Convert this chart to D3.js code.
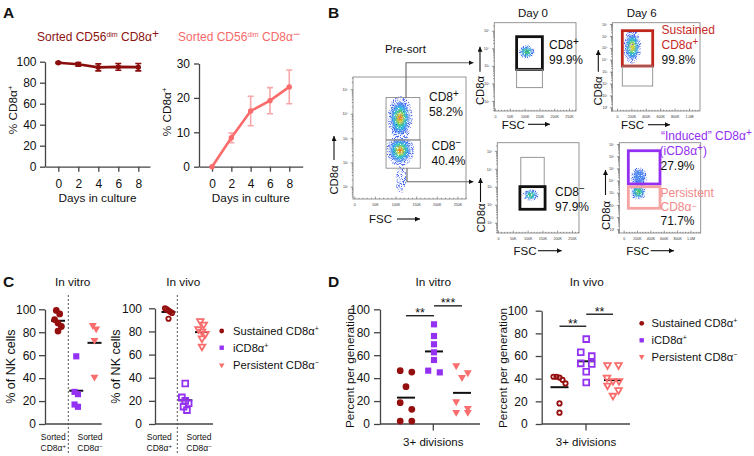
<!DOCTYPE html>
<html>
<head>
<meta charset="utf-8">
<script src="https://cdn.jsdelivr.net/npm/d3@7"></script>
<style>
  body { margin: 0; background: #fff; }
  svg text { font-family: "Liberation Sans", Arial, Helvetica, sans-serif; }
</style>
</head>
<body>
<svg id="fig" width="754" height="456">
  <defs>
    <marker id="ah" viewBox="0 0 10 10" refX="10" refY="5" markerWidth="5" markerHeight="5"
            markerUnits="userSpaceOnUse" orient="auto"><path d="M0,0L10,5L0,10z" fill="#111"/></marker>
    <filter id="speck" x="-30%" y="-30%" width="160%" height="160%">
      <feTurbulence type="fractalNoise" baseFrequency="1.1" numOctaves="1" seed="4" result="n"/>
      <feColorMatrix in="n" type="matrix" values="0 0 0 0 0  0 0 0 0 0  0 0 0 0 0  0 0 0 6 -2.9" result="m"/>
      <feComposite in="SourceGraphic" in2="m" operator="in"/>
    </filter>
    <filter id="grain" x="-30%" y="-30%" width="160%" height="160%">
      <feGaussianBlur in="SourceGraphic" stdDeviation="0.8" result="b"/>
      <feTurbulence type="fractalNoise" baseFrequency="1.3" numOctaves="1" seed="9" result="n"/>
      <feColorMatrix in="n" type="matrix" values="0 0 0 0 0  0 0 0 0 0  0 0 0 0 0  0 0 0 5 -1.4" result="m"/>
      <feComposite in="b" in2="m" operator="in"/>
    </filter>
  </defs>
</svg>
<script>
// ---------------- data ----------------

// A: % CD8a+ cells over days in culture (mean, SEM)
var days = [0, 2, 4, 6, 8];
var posMean = [99, 97.5, 94.6, 95.1, 94.8];
var posErr = [0.6, 1.7, 3.3, 3.2, 3.5];
var negMean = [0, 8.4, 16.2, 19.2, 23.2];
var negErr = [0, 1.4, 4.3, 3.8, 4.9];
var posTicks = [0, 20, 40, 60, 80, 100];
var negTicks = [0, 10, 20, 30];

// B: gates as [FSC min, FSC max, log10 CD8a min, log10 CD8a max]
var presortGates = [[77000, 159000, 2.92, 4.66], [77000, 160000, 1.76, 2.92]];
var day0PosGates = [[73000, 160000, 2.80, 4.66], [73000, 160000, 1.76, 2.80]];
var day0NegGates = [[77000, 156000, 3.01, 4.64], [74000, 159000, 1.75, 3.01]];
var day6PosGates = [[74000, 496000, 3.47, 6.44], [74000, 496000, 1.79, 3.47]];
var day6NegGates = [[70000, 544000, 3.72, 6.45], [70000, 544000, 1.72, 3.49]];

// B: cell clouds as [FSC centre, log10 CD8a centre, FSC half width, log half height, density 0-1]
var presortCells = [[111000, 3.82, 27000, 0.8, 1], [111000, 2.49, 30000, 0.57, 1], [113000, 1.3, 12000, 0.5, 0.05]];
var day0PosCells = [[107000, 3.8, 23600, 0.34, 0.55]];
var day0NegCells = [[110000, 2.55, 23600, 0.28, 0.55]];
var day6PosCells = [[213000, 5.09, 111000, 1.26, 0.8]];
var day6NegCells = [[219000, 3.06, 105000, 0.58, 0.7], [230000, 4.29, 105000, 0.74, 0.3]];

// C: % of NK cells
var pctTicks = [0, 20, 40, 60, 80, 100];
var cVitroSus = [99, 96, 91, 88, 85, 81];
var cVitroInd = [59, 28, 26, 17, 15];
var cVitroPer = [86, 83, 73, 41];
var cVivoSus = [100, 99, 98, 97, 96, 91];
var cVivoInd = [35, 23, 20, 18, 15, 12];
var cVivoPer = [89, 86, 82, 80, 78, 74, 67];

// D: percent per generation, 3+ divisions
var dVitroSus = [46.5, 45.3, 32.5, 18.6, 12.8, 2.6, 2.6];
var dVitroInd = [86.9, 76.7, 69.5, 62.5, 55.8, 46.5, 45];
var dVitroPer = [50.9, 44.8, 40.7, 19.5, 13.7, 10.2, 10.2];
var dVivoSus = [41.7, 41.7, 41, 39, 35.8, 18.2, 10];
var dVivoInd = [74.9, 63.4, 59.9, 53.5, 52.9, 46.1, 36.7];
var dVivoPer = [52, 52, 41, 38, 38, 34, 30, 25];
// significance brackets: [from group, to group, label], heights in % units
var dVitroSig = [[0, 1, "**"], [1, 2, "***"]];
var dVitroSigLevel = [94.4, 103];
var dVivoSig = [[0, 1, "**"], [1, 2, "**"]];
var dVivoSigLevel = [86.3, 96.9];

var legendNames = ["Sustained CD8α", "iCD8α", "Persistent CD8α"];
var legendSups = ["+", "+", "−"];

// ---------------- styles ----------------
var darkRed = "#960f0f", salmon = "#f96d6d", salmonLight = "#f7a7a7", purple = "#9430f2";
var axisCol = "#444";
var groupCols = [darkRed, purple, salmon];
var groupShapes = [d3.symbolCircle, d3.symbolSquare, d3.symbolTriangle];

var svg = d3.select("#fig");
svg.insert("rect", "defs").attr("width", 754).attr("height", 456).attr("fill", "#fff");

// text with super/subscript pieces; parts are strings or {t, size, up}
function rich(x, y, parts, opt) {
  opt = opt || {};
  var t = svg.append("text").attr("x", x).attr("y", y)
    .attr("font-size", opt.size || 12)
    .attr("fill", opt.fill || "#111")
    .attr("text-anchor", opt.anchor || "start");
  if (opt.rotate) t.attr("transform", "rotate(-90," + x + "," + y + ")");
  if (opt.bold) t.attr("font-weight", "bold");
  var shift = 0;
  parts.forEach(function(p) {
    if (typeof p === "string") p = {t: p};
    var up = p.up || 0;
    var ts = t.append("tspan").text(p.t);
    if (p.size) ts.attr("font-size", p.size);
    if (up !== shift) ts.attr("dy", shift - up);
    shift = up;
  });
  return t;
}
function sup(t, size, up) { return {t: t, size: size || 8, up: up || 4.5}; }

function styleAxis(a, size) {
  a.select(".domain").attr("stroke", axisCol).attr("stroke-width", 1.3);
  a.selectAll(".tick line").attr("stroke", axisCol).attr("stroke-width", 1.3);
  a.selectAll(".tick text").attr("font-size", size).attr("fill", "#111")
    .attr("font-family", "'Liberation Sans', Arial, sans-serif");
}

function arrow(x1, y1, x2, y2, col) {
  svg.append("line").attr("x1", x1).attr("y1", y1).attr("x2", x2).attr("y2", y2)
    .attr("stroke", col || "#111").attr("stroke-width", 1.1).attr("marker-end", "url(#ah)");
}

// panel letters
[["A", 3, 18], ["B", 328, 18], ["C", 3, 287], ["D", 328, 287]].forEach(function(l) {
  rich(l[1], l[2], [l[0]], {size: 15.5, bold: true});
});

// ---------------- A ----------------
function linePanel(x0, x1, dayDom, yTop, yMax, ticks, mean, err, col, errCol, pad) {
  var x = d3.scaleLinear().domain(dayDom).range([x0, x1]);
  var y = d3.scaleLinear().domain([0, yMax]).range([166.7, yTop]);
  svg.append("g").attr("transform", "translate(" + x0 + ",0)")
    .call(d3.axisLeft(y).tickValues(ticks).tickSize(5).tickPadding(pad).tickSizeOuter(0))
    .call(styleAxis, 12);
  svg.append("g").attr("transform", "translate(0,166.7)")
    .call(d3.axisBottom(x).tickValues(days).tickSize(5).tickPadding(8).tickSizeOuter(0))
    .call(styleAxis, 12);
  var g = svg.append("g");
  days.forEach(function(d, i) {
    if (!err[i]) return;
    var lo = y(mean[i] - err[i]), hi = y(mean[i] + err[i]);
    g.append("path").attr("d", "M" + x(d) + "," + lo + "V" + hi +
        "M" + (x(d) - 3) + "," + lo + "h6M" + (x(d) - 3) + "," + hi + "h6")
      .attr("stroke", errCol).attr("stroke-width", 1.6).attr("fill", "none");
  });
  g.append("path").datum(days)
    .attr("d", d3.line().x(function(d) { return x(d); }).y(function(d, i) { return y(mean[i]); }))
    .attr("fill", "none").attr("stroke", col).attr("stroke-width", 2.6);
  g.selectAll("circle").data(days).enter().append("circle")
    .attr("cx", function(d) { return x(d); })
    .attr("cy", function(d, i) { return y(mean[i]); })
    .attr("r", 2.7).attr("fill", col);
  rich((x0 + x1) / 2, 201.5, ["Days in culture"], {size: 11.8, anchor: "middle"});
}
linePanel(45, 150, [-1.33, 9.17], 61.7, 100, posTicks, posMean, posErr, "#8b0e0e", "#8b0e0e", 3.5);
linePanel(199, 302.7, [-1.35, 9.39], 63.5, 30, negTicks, negMean, negErr, "#fa6b6b", salmonLight, 4);
rich(16.5, 110, ["% CD8α", sup("+", 7.5, 4)], {size: 11.8, anchor: "middle", rotate: true});
rich(171, 112, ["% CD8α", sup("+", 7.5, 4)], {size: 11.8, anchor: "middle", rotate: true});
rich(98, 41, ["Sorted CD56", sup("dim", 7, 4), " CD8α", sup("+", 12, 3.5)], {size: 12, anchor: "middle", fill: "#8b1212"});
rich(239, 41, ["Sorted CD56", sup("dim", 7, 4), " CD8α", sup("−", 12, 3.5)], {size: 12, anchor: "middle", fill: "#f66a6a"});

// ---------------- B ----------------
// density rings from sparse edge to dense core
var cloudLevels = [
  {k: 1.12, c: "#3b5cf0", need: 0},
  {k: 0.80, c: "#4a86f2", need: 0.1},
  {k: 0.62, c: "#2cc0df", need: 0.35},
  {k: 0.45, c: "#3fcb62", need: 0.5},
  {k: 0.29, c: "#e6d82a", need: 0.75},
  {k: 0.15, c: "#ee4a1c", need: 0.95}
];
var supDigits = "⁰¹²³⁴⁵⁶⁷⁸⁹";
var clipN = 0;

function flowPlot(fr, xDom, yExp, xStep, gates, gateLook, cells) {
  var x = d3.scaleLinear().domain(xDom).range([fr[0], fr[1]]);
  var y = d3.scaleLog().domain([Math.pow(10, yExp[0]), Math.pow(10, yExp[1])]).range([fr[3], fr[2]]);
  var g = svg.append("g");
  var cid = "clip" + (clipN++);
  svg.select("defs").append("clipPath").attr("id", cid).append("rect")
    .attr("x", fr[0]).attr("y", fr[2]).attr("width", fr[1] - fr[0]).attr("height", fr[3] - fr[2]);
  var cg = g.append("g").attr("clip-path", "url(#" + cid + ")");

  // cell clouds: speckled halo plus grainy blurred core
  cells.forEach(function(c) {
    var cx = x(c[0]), cy = y(Math.pow(10, c[1]));
    var rx = x(c[0] + c[2]) - cx;
    var ry = cy - y(Math.pow(10, c[1] + c[3]));
    var lv = cloudLevels.filter(function(l) { return l.need <= c[4]; });
    cg.append("ellipse").attr("cx", cx).attr("cy", cy)
      .attr("rx", rx * lv[0].k).attr("ry", ry * lv[0].k)
      .attr("fill", lv[0].c).attr("filter", "url(#speck)");
    var core = cg.append("g").attr("filter", "url(#grain)");
    lv.slice(1).forEach(function(l) {
      core.append("ellipse").attr("cx", cx).attr("cy", cy)
        .attr("rx", rx * l.k).attr("ry", ry * l.k).attr("fill", l.c);
    });
  });

  // gates
  gates.forEach(function(gt, i) {
    var top = y(Math.pow(10, gt[3])), bot = y(Math.pow(10, gt[2]));
    g.append("rect").attr("x", x(gt[0])).attr("y", top)
      .attr("width", x(gt[1]) - x(gt[0])).attr("height", bot - top)
      .attr("fill", "none").attr("stroke", gateLook[i][0]).attr("stroke-width", gateLook[i][1]);
  });

  // frame
  g.append("rect").attr("x", fr[0]).attr("y", fr[2]).attr("width", fr[1] - fr[0]).attr("height", fr[3] - fr[2])
    .attr("fill", "none").attr("stroke", "#8a8a8a").attr("stroke-width", 0.9);

  // tiny axes
  var isMajor = function(v) { var l = Math.log10(v); return Math.abs(l - Math.round(l)) < 1e-6; };
  var allY = y.ticks();
  var ya = g.append("g").attr("transform", "translate(" + fr[0] + ",0)");
  ya.call(d3.axisLeft(y).tickValues(allY.filter(function(v) { return !isMajor(v); })).tickSize(1.2).tickFormat(""));
  ya.append("g").call(d3.axisLeft(y).tickValues(allY.filter(isMajor)).tickSize(2.4).tickPadding(2.5)
    .tickFormat(function(v) { return "10" + supDigits[Math.round(Math.log10(v))]; }));
  var xMaj = d3.range(0, xDom[1], xStep);
  var xMin = d3.range(0, xDom[1], xStep / 5).filter(function(v) { return xMaj.indexOf(v) < 0; });
  var xa = g.append("g").attr("transform", "translate(0," + fr[3] + ")");
  xa.call(d3.axisBottom(x).tickValues(xMin).tickSize(-1.2).tickFormat(""));
  xa.append("g").call(d3.axisBottom(x).tickValues(xMaj).tickSize(-2.4).tickPadding(4)
    .tickFormat(function(v) { return v === 0 ? "0" : v >= 1e6 ? (v / 1e6).toFixed(1) + "M" : (v / 1000) + "K"; }));
  g.selectAll(".domain").remove();
  g.selectAll(".tick line").attr("stroke", "#555").attr("stroke-width", 0.6);
  g.selectAll(".tick text").attr("font-size", 3.6).attr("fill", "#333");
}

var thinGate = ["#8c8c8c", 0.9];
flowPlot([353, 466, 77, 199], [-3200, 271000], [0.495, 5.505], 50000, presortGates, [thinGate, thinGate], presortCells);
flowPlot([494.3, 576, 22.7, 111], [-2400, 273600], [0.43, 5.455], 50000, day0PosGates, [["#111", 2.8], thinGate], day0PosCells);
flowPlot([497.3, 579, 142.7, 233], [-2400, 273600], [0.43, 5.455], 50000, day0NegGates, [thinGate, ["#111", 2.8]], day0NegCells);
flowPlot([612.3, 700, 22.7, 111], [-65000, 1153000], [-0.31, 7.11], 200000, day6PosGates, [["#c0271d", 2.8], thinGate], day6PosCells);
flowPlot([619.3, 700.7, 142.7, 233], [-65000, 1153000], [-0.31, 7.11], 200000, day6NegGates, [[purple, 2.8], ["#f5a3a3", 2.8]], day6NegCells);

// connectors from the pre-sort gates
svg.append("path").attr("d", "M406,97.7V62.7H473.5").attr("fill", "none").attr("stroke", "#666").attr("stroke-width", 1.1).attr("marker-end", "url(#ah)");
svg.append("path").attr("d", "M407,168.3V181.7H473.5").attr("fill", "none").attr("stroke", "#666").attr("stroke-width", 1.1).attr("marker-end", "url(#ah)");

// axis names with arrows
[[338, 180, 334, 160, 136], [484, 90.5, 480, 71.7, 46.7], [602.3, 91, 598.3, 71.7, 50],
 [485, 218, 480.5, 202, 178], [609.5, 215.5, 605.5, 195, 170]].forEach(function(a) {
  rich(a[0], a[1], ["CD8α"], {size: 11.3, anchor: "middle", rotate: true});
  arrow(a[2], a[3], a[2], a[4]);
});
[[380.5, 223, 397, 420, 219], [513.3, 128.5, 528, 550, 124.3], [632.5, 129, 648, 670, 124.7],
 [525, 255, 538, 561.7, 250.7], [637.7, 255, 650.7, 674, 250.7]].forEach(function(a) {
  rich(a[0], a[1], ["FSC"], {size: 11.5, anchor: "middle"});
  arrow(a[2], a[4], a[3], a[4]);
});

rich(385, 52.5, ["Pre-sort"], {size: 11.5});
rich(533, 17, ["Day 0"], {size: 11.5, anchor: "middle"});
rich(641.7, 17, ["Day 6"], {size: 11.5, anchor: "middle"});
rich(429, 101, ["CD8", sup("+", 10, 4)], {size: 12});
rich(429, 116, ["58.2%"], {size: 12});
rich(431.5, 150, ["CD8", sup("−", 10, 4)], {size: 12});
rich(431.5, 165, ["40.4%"], {size: 12});
rich(549, 48.5, ["CD8", sup("+", 10, 4)], {size: 12});
rich(549, 63.5, ["99.9%"], {size: 12});
rich(555, 196, ["CD8", sup("−", 10, 4)], {size: 12});
rich(555, 210.5, ["97.9%"], {size: 12});
rich(661.5, 34, ["Sustained"], {size: 12, fill: "#c62a1f"});
rich(661.5, 48.5, ["CD8α", sup("+", 10, 4)], {size: 12, fill: "#c62a1f"});
rich(661.5, 63.5, ["99.8%"], {size: 12});
rich(661, 140, ["“Induced” CD8α", sup("+", 10, 4)], {size: 12, fill: purple});
rich(659.5, 155, ["(iCD8α", sup("+", 10, 4), ")"], {size: 12, fill: purple});
rich(660.5, 169.5, ["27.9%"], {size: 12});
rich(660.5, 196.5, ["Persistent"], {size: 12, fill: "#f28888"});
rich(660.5, 211, ["CD8α", sup("−", 9, 2.5)], {size: 12, fill: "#f28888"});
rich(660.5, 225, ["71.7%"], {size: 12});

// ---------------- C and D ----------------
// spread points that share a row symmetrically around the group centre
function swarm(vals, y, gap, maxSpread) {
  var order = vals.map(function(v, i) { return i; }).sort(function(a, b) { return vals[b] - vals[a]; });
  var off = vals.map(function() { return 0; });
  var row = [];
  function flush() {
    var step = row.length > 1 ? Math.min(gap, maxSpread / (row.length - 1)) : 0;
    row.forEach(function(j, k) { off[j] = (k - (row.length - 1) / 2) * step; });
    row = [];
  }
  order.forEach(function(i) {
    if (row.length && Math.abs(y(vals[i]) - y(vals[row[0]])) > 7) flush();
    row.push(i);
  });
  flush();
  return off;
}

function marker(g, gi, cx, cy, open, scale) {
  var sizes = open ? [15, 33, 19] : [36, 38, 27];
  var p = g.append("path")
    .attr("d", d3.symbol().type(groupShapes[gi]).size(sizes[gi] * (scale || 1)))
    .attr("transform", "translate(" + cx + "," + cy + ")" + (gi === 2 ? " rotate(180)" : ""));
  if (open) p.attr("fill", "none").attr("stroke", groupCols[gi]).attr("stroke-width", 1.8);
  else p.attr("fill", groupCols[gi]);
}

function dotPanel(cfg) {
  var y = d3.scaleLinear().domain([0, 100]).range([424, cfg.yTop]);
  var xg = d3.scalePoint().domain([0, 1, 2]).range(cfg.groupRange);
  svg.append("g").attr("transform", "translate(" + cfg.x0 + ",0)")
    .call(d3.axisLeft(y).tickValues(pctTicks).tickSize(6).tickPadding(cfg.pad).tickSizeOuter(0))
    .call(styleAxis, 12);
  svg.append("line").attr("x1", cfg.x0).attr("x2", cfg.x1).attr("y1", 424).attr("y2", 424)
    .attr("stroke", axisCol).attr("stroke-width", 1.3);
  var g = svg.append("g");
  // group means under the points
  cfg.sets.forEach(function(vals, gi) {
    var m = y(d3.mean(vals));
    g.append("line").attr("x1", xg(gi) - cfg.meanHalf).attr("x2", xg(gi) + cfg.meanHalf)
      .attr("y1", m).attr("y2", m).attr("stroke", "#111").attr("stroke-width", 2);
  });
  cfg.sets.forEach(function(vals, gi) {
    var off = swarm(vals, y, cfg.gap, cfg.maxSpread);
    vals.forEach(function(v, i) { marker(g, gi, xg(gi) + off[i], y(v), cfg.open); });
  });
  (cfg.sig || []).forEach(function(s, i) {
    var ly = y(cfg.sigLevel[i]);
    g.append("line").attr("x1", xg(s[0])).attr("x2", xg(s[1])).attr("y1", ly).attr("y2", ly)
      .attr("stroke", "#111").attr("stroke-width", 1.3);
    rich((xg(s[0]) + xg(s[1])) / 2, ly + 1.5, [s[2]], {size: 12.5, anchor: "middle"});
  });
  return xg;
}

// C
dotPanel({x0: 45, x1: 101.7, yTop: 309.3, groupRange: [58, 94.5], sets: [cVitroSus, cVitroInd, cVitroPer],
  open: false, gap: 3.4, maxSpread: 7, meanHalf: 7, pad: 3});
dotPanel({x0: 155, x1: 213, yTop: 308.3, groupRange: [168.5, 202], sets: [cVivoSus, cVivoInd, cVivoPer],
  open: true, gap: 3.4, maxSpread: 7, meanHalf: 7, pad: 7});
[68.3, 177.3].forEach(function(xd) {
  svg.append("line").attr("x1", xd).attr("x2", xd).attr("y1", 295).attr("y2", 453)
    .attr("stroke", "#555").attr("stroke-width", 1).attr("stroke-dasharray", "2,2");
});
var sortedPos = d3.scalePoint().domain(["pos", "neg"]);
[[53.3, 90], [159.3, 199]].forEach(function(r) {
  sortedPos.range(r);
  rich(sortedPos("pos"), 439.5, ["Sorted"], {size: 8.5, anchor: "middle"});
  rich(sortedPos("pos"), 451, ["CD8α", sup("+", 6, 3)], {size: 8.5, anchor: "middle"});
  rich(sortedPos("neg"), 439.5, ["Sorted"], {size: 8.5, anchor: "middle"});
  rich(sortedPos("neg"), 451, ["CD8α", sup("−", 6, 3)], {size: 8.5, anchor: "middle"});
});
rich(72.7, 286, ["In vitro"], {size: 11.8, anchor: "middle"});
rich(183.3, 286, ["In vivo"], {size: 11.8, anchor: "middle"});
rich(14.8, 366.7, ["% of NK cells"], {size: 12.5, anchor: "middle", rotate: true});
rich(120, 366.7, ["% of NK cells"], {size: 12.5, anchor: "middle", rotate: true});

// D
dotPanel({x0: 380, x1: 480, yTop: 309.3, groupRange: [406, 462], sets: [dVitroSus, dVitroInd, dVitroPer],
  open: false, gap: 11.6, maxSpread: 12, meanHalf: 9, pad: 4, sig: dVitroSig, sigLevel: dVitroSigLevel});
dotPanel({x0: 541.7, x1: 630, yTop: 310.7, groupRange: [559.5, 613], sets: [dVivoSus, dVivoInd, dVivoPer],
  open: true, gap: 11, maxSpread: 12, meanHalf: 9, pad: 8, sig: dVivoSig, sigLevel: dVivoSigLevel});
[433.3, 586].forEach(function(xt) {
  svg.append("line").attr("x1", xt).attr("x2", xt).attr("y1", 424).attr("y2", 430.5)
    .attr("stroke", axisCol).attr("stroke-width", 1.3);
  rich(xt, 445.5, ["3+ divisions"], {size: 11.5, anchor: "middle"});
});
rich(433.3, 286, ["In vitro"], {size: 11.8, anchor: "middle"});
rich(586.7, 286, ["In vivo"], {size: 11.8, anchor: "middle"});
rich(353.5, 368, ["Percent per generation"], {size: 11.8, anchor: "middle", rotate: true});
rich(507, 368, ["Percent per generation"], {size: 11.8, anchor: "middle", rotate: true});

// legends
function legend(mx, tx, rows) {
  var g = svg.append("g");
  legendNames.forEach(function(name, i) {
    marker(g, i, mx, rows[i], false, 0.5);
    rich(tx, rows[i] + 4, [name, sup(legendSups[i], 7, 4)], {size: 11.2});
  });
}
legend(221.7, 233, [331, 347.7, 365]);
legend(641.7, 651.5, [323.3, 340.3, 356.7]);
</script>
</body>
</html>
